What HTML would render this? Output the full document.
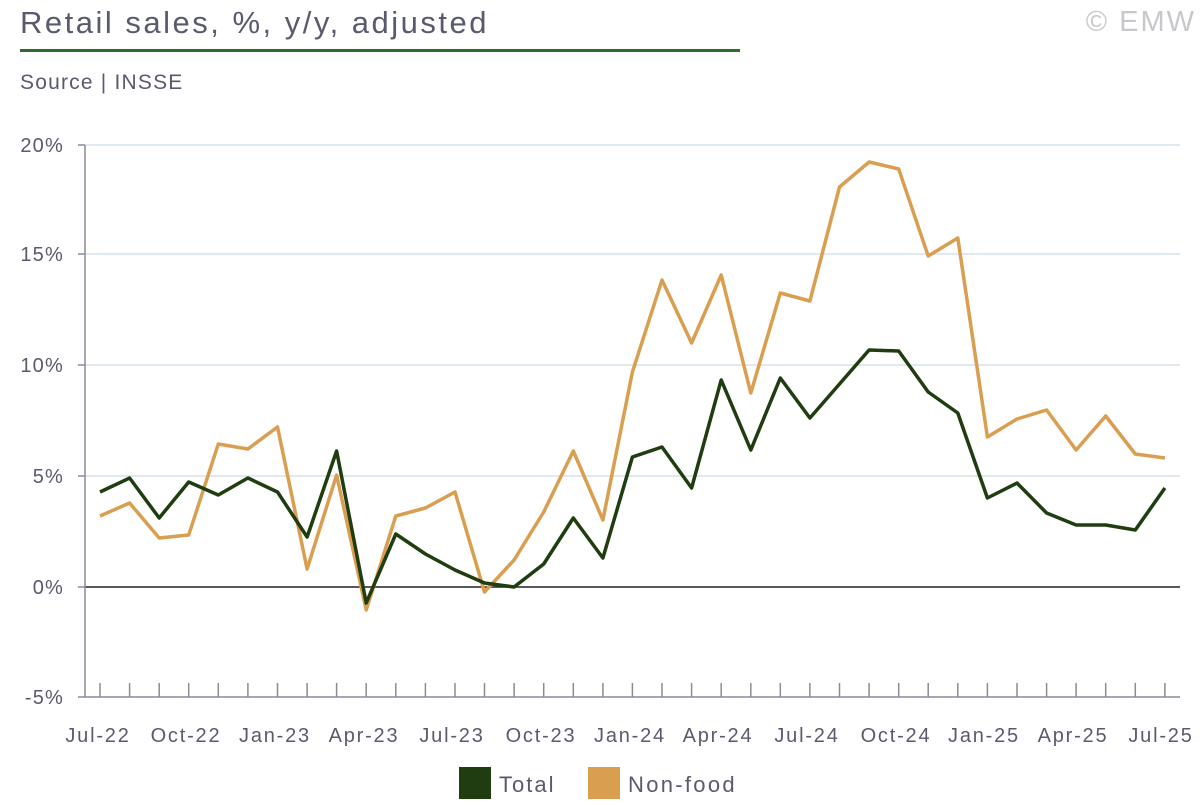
<!DOCTYPE html>
<html><head><meta charset="utf-8"><style>
body{margin:0;background:#fff;width:1200px;height:800px;overflow:hidden;font-family:"Liberation Sans",sans-serif}
</style></head><body>
<svg width="1200" height="800" xmlns="http://www.w3.org/2000/svg" font-family="Liberation Sans, sans-serif">
<text x="20" y="33" font-size="31" fill="#595a6e" letter-spacing="2.5">Retail sales, %, y/y, adjusted</text>
<text x="1196" y="31" font-size="29" fill="#c8c8cc" text-anchor="end" letter-spacing="2">© EMW</text>
<rect x="20" y="49" width="720" height="3" fill="#2f6b2f"/>
<text x="20" y="89" font-size="21" fill="#595a6e" letter-spacing="1.2">Source | INSSE</text>
<g stroke="#d5e2ec" stroke-width="1.5">
<line x1="85" y1="145" x2="1180" y2="145"/><line x1="85" y1="254" x2="1180" y2="254"/>
<line x1="85" y1="365" x2="1180" y2="365"/><line x1="85" y1="476" x2="1180" y2="476"/>
</g>
<line x1="85" y1="587" x2="1180" y2="587" stroke="#222" stroke-width="1.5"/>
<g stroke="#8a8a9a" stroke-width="1.5">
<line x1="85" y1="145" x2="85" y2="697"/><line x1="85" y1="697" x2="1180" y2="697"/>
<line x1="78" y1="145" x2="85" y2="145"/><line x1="78" y1="254" x2="85" y2="254"/><line x1="78" y1="365" x2="85" y2="365"/><line x1="78" y1="476" x2="85" y2="476"/><line x1="78" y1="587" x2="85" y2="587"/><line x1="78" y1="697" x2="85" y2="697"/>
</g>
<g id="ticks" stroke="#8a8a9a" stroke-width="1.5"></g>
<g font-size="20" fill="#595a6e" text-anchor="end" letter-spacing="1.2">
<text x="64" y="152">20%</text><text x="64" y="261">15%</text><text x="64" y="372">10%</text><text x="64" y="483">5%</text><text x="64" y="594">0%</text><text x="64" y="704">-5%</text>
</g>
<g font-size="20" fill="#595a6e" text-anchor="middle" letter-spacing="1.8">
<text x="98" y="742">Jul-22</text><text x="186" y="742">Oct-22</text><text x="275" y="742">Jan-23</text><text x="364" y="742">Apr-23</text><text x="452" y="742">Jul-23</text><text x="541" y="742">Oct-23</text><text x="630" y="742">Jan-24</text><text x="718" y="742">Apr-24</text><text x="807" y="742">Jul-24</text><text x="896" y="742">Oct-24</text><text x="984" y="742">Jan-25</text><text x="1073" y="742">Apr-25</text><text x="1161" y="742">Jul-25</text>
</g>
<polyline id="nf" fill="none" stroke="#d99e50" stroke-width="3.5" stroke-linejoin="round"/>
<polyline id="tot" fill="none" stroke="#1f3d10" stroke-width="3.5" stroke-linejoin="round"/>
<rect x="459" y="767" width="32" height="32" fill="#1f3d10"/>
<text x="499" y="792" font-size="22" fill="#595a6e" letter-spacing="2">Total</text>
<rect x="588" y="767" width="32" height="32" fill="#d99e50"/>
<text x="628" y="792" font-size="22" fill="#595a6e" letter-spacing="2.3">Non-food</text>
</svg>
<script>
var t=[492,478,518,482,495,478,492,537,451,603,534,554,570,583,587,564,518,558,457,447,488,380,450,378,418,384,350,351,392,413,498,483,513,525,525,530,488];
var n=[516,503,538,535,444,449,427,569,475,610,516,508,492,592,560,512,451,520,372,280,343,275,393,293,301,187,162,169,256,238,437,419,410,450,416,454,458];
function pts(a){return a.map(function(y,i){return (100+i*29.58).toFixed(1)+','+y}).join(' ')}
document.getElementById('tot').setAttribute('points',pts(t));
document.getElementById('nf').setAttribute('points',pts(n));
var g=document.getElementById('ticks'),s='';
for(var i=0;i<37;i++){var x=(100+i*29.58).toFixed(1);s+='<line x1="'+x+'" y1="683" x2="'+x+'" y2="697"/>';}
g.innerHTML=s;
</script>
</body></html>
